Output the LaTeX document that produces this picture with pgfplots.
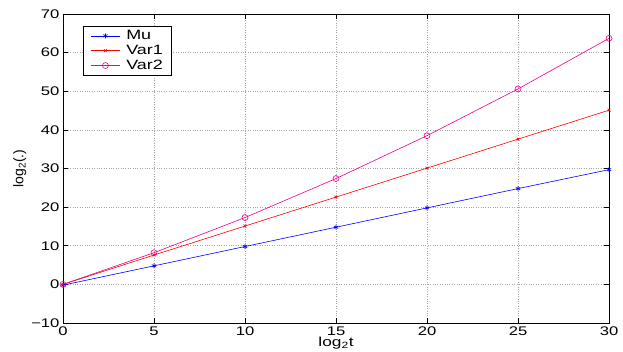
\documentclass[border=0pt]{standalone}
\usepackage{fontspec}
\setmainfont[FakeStretch=1.33]{Liberation Sans}
\newfontfamily\plainsans{Liberation Sans}
\usepackage{pgfplots}
\pgfplotsset{compat=1.18}
\begin{document}
\begin{tikzpicture}[x=1pt,y=1pt]
\useasboundingbox[fill=white] (0,0) rectangle (623,351);
\begin{axis}[
  at={(63pt,28pt)}, anchor=south west,
  scale only axis, width=546pt, height=309pt,
  xmin=0, xmax=30, ymin=-10, ymax=70,
  xtick={0,5,...,30}, ytick={-10,0,...,70},
  xticklabels={0,5,10,15,20,25,30},
  yticklabels={−10,0,10,20,30,40,50,60,70},
  tick align=inside, tick pos=both,
  major tick length=5pt,
  tick style={black, line width=0.6pt},
  axis line style={black, line width=0.9pt},
  grid=major,
  major grid style={gray!70, dotted, line width=0.7pt},
  ticklabel style={font=\fontsize{12.5}{14}\selectfont},
  xlabel={log\textsubscript{2}t},
  ylabel={{\plainsans log\textsubscript{2}(.)}},
  label style={font=\fontsize{13}{14}\selectfont},
  xlabel style={yshift=5pt},
  ylabel style={yshift=-2pt, font=\fontsize{14}{15}\selectfont},
  legend style={at={(0.037,0.961)}, anchor=north west, draw=black, line width=0.9pt,
    font=\fontsize{13.5}{14}\selectfont, inner xsep=7pt, inner ysep=2pt, row sep=0pt,
    legend cell align=left, /tikz/every odd column/.style={column sep=4pt}},
  legend image code/.code={\draw[mark repeat=2,mark phase=2,#1,line width=0.6pt]
     plot coordinates {(0pt,0pt) (14.5pt,0pt) (29pt,0pt)};},
]
\addplot[blue, line width=0.6pt, mark=asterisk, mark size=2.5pt] coordinates {
  (0,-0.2) (5,4.8) (10,9.8) (15,14.8) (20,19.8) (25,24.8) (30,29.7)};
\addlegendentry{Mu}
\addplot[red, line width=0.6pt, mark=x, mark size=2pt] coordinates {
  (0,0) (5,7.6) (10,15.1) (15,22.6) (20,30.1) (25,37.6) (30,45.1)};
\addlegendentry{Var1}
\addplot[magenta, line width=0.6pt, mark=o, mark size=3pt] coordinates {
  (0,0) (5,8.2) (10,17.3) (15,27.4) (20,38.5) (25,50.6) (30,63.7)};
\addlegendentry{Var2}
\end{axis}
\end{tikzpicture}
\end{document}
